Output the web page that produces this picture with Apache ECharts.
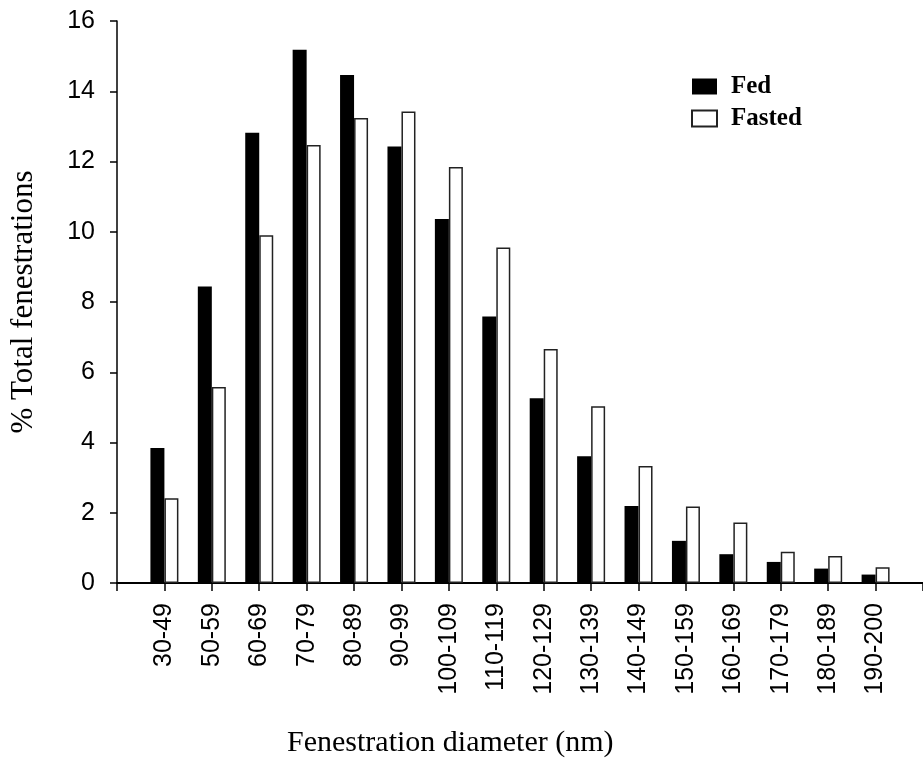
<!DOCTYPE html>
<html>
<head>
<meta charset="utf-8">
<script src="https://cdn.jsdelivr.net/npm/echarts@6/dist/echarts.min.js"></script>
<style>
html,body{margin:0;padding:0;background:#fff;}
#chart{width:923px;height:762px;}
</style>
</head>
<body>
<div id="chart"></div>
<script>
var categories = ['30-49','50-59','60-69','70-79','80-89','90-99','100-109','110-119','120-129','130-139','140-149','150-159','160-169','170-179','180-189','190-200'];
var fed =    [3.84, 8.44, 12.82, 15.18, 14.46, 12.43, 10.36, 7.59, 5.26, 3.61, 2.19, 1.20, 0.82, 0.60, 0.41, 0.24];
var fasted = [2.41, 5.58, 9.90, 12.47, 13.24, 13.42, 11.84, 9.55, 6.66, 5.03, 3.33, 2.18, 1.72, 0.89, 0.77, 0.45];
var yTicks = [0, 2, 4, 6, 8, 10, 12, 14, 16];

// pad with an empty slot on each side so the axis starts one step before the first group
var xCats = [''].concat(categories).concat(['']);
function pad(a){ return [null].concat(a).concat([null]); }

var chart = echarts.init(document.getElementById('chart'), null, {renderer:'canvas'});
chart.setOption({
  animation: false,
  backgroundColor: '#ffffff',
  title: {
    text: 'Fenestration diameter (nm)',
    left: 287, top: 728,
    padding: 0,
    textStyle: {fontFamily: 'Liberation Serif', fontSize: 30, fontWeight: 'normal', color: '#000'}
  },
  legend: {
    orient: 'vertical',
    left: 691, top: 74,
    itemWidth: 25, itemHeight: 16, itemGap: 7,
    padding: 0,
    icon: 'rect',
    textStyle: {fontFamily: 'Liberation Serif', fontSize: 25, fontWeight: 'bold', color: '#000', padding: [0,0,0,9]},
    data: ['Fed', 'Fasted']
  },
  grid: {left: 116, right: -9, top: 21, bottom: 179, containLabel: false},
  xAxis: {
    type: 'category',
    data: xCats,
    boundaryGap: false,
    axisLine: {lineStyle: {color: '#000', width: 2}},
    axisTick: {show: true, length: 8, lineStyle: {color: '#000', width: 1.5}},
    axisLabel: {rotate: 90, margin: 20, interval: 0, fontFamily: 'Liberation Sans', fontSize: 25, color: '#000'},
    splitLine: {show: false}
  },
  yAxis: {
    type: 'value',
    min: yTicks[0], max: yTicks[yTicks.length-1], interval: 2,
    name: '% Total fenestrations',
    nameLocation: 'middle',
    nameRotate: 90,
    nameGap: 78,
    nameTextStyle: {fontFamily: 'Liberation Serif', fontSize: 31, color: '#000'},
    axisLine: {show: true, lineStyle: {color: '#000', width: 1.5}},
    axisTick: {show: true, length: 7, lineStyle: {color: '#000', width: 1.5}},
    axisLabel: {margin: 22, fontFamily: 'Liberation Sans', fontSize: 25, color: '#000'},
    splitLine: {show: false}
  },
  series: [
    {
      name: 'Fed', type: 'bar', data: pad(fed),
      barWidth: 14, barGap: '0%',
      itemStyle: {color: '#000', borderColor: '#000', borderWidth: 0}
    },
    {
      name: 'Fasted', type: 'bar', data: pad(fasted),
      barWidth: 14, barGap: '0%',
      itemStyle: {color: '#fff', borderColor: '#222', borderWidth: 1.5}
    }
  ]
});
</script>
</body>
</html>
